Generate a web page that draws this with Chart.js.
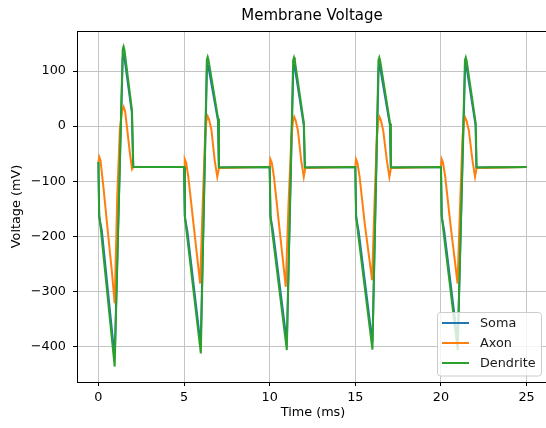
<!DOCTYPE html>
<html>
<head>
<meta charset="utf-8">
<title>Membrane Voltage</title>
<script src="https://cdn.jsdelivr.net/npm/chart.js@4/dist/chart.umd.min.js"></script>
<style>
    html, body { margin: 0; padding: 0; background: #fff; overflow: hidden; }
    #voltageChart { display: block; }
</style>
</head>
<body>
<canvas id="voltageChart" width="550" height="428"></canvas>
<script>
// Data (time in ms, voltage in mV)
const somaTime = [0, 0.05, 0.2, 0.95, 1.42, 1.47, 1.52, 1.95, 2.03,
    5.0, 5.05, 5.2, 5.97, 6.34, 6.38, 6.43, 6.98, 7.03,
    10.0, 10.05, 10.2, 11.0, 11.38, 11.42, 11.47, 11.99, 12.05,
    15.0, 15.05, 15.2, 16.0, 16.36, 16.4, 16.45, 17.02, 17.07,
    20.0, 20.05, 20.2, 20.98, 21.41, 21.45, 21.5, 22.02, 22.07,
    25.0];
const somaVoltage = [-65, -165, -190, -420, 125, 129, 124, 25, -74,
    -74, -165, -192, -398, 107, 111, 106, 10, -75,
    -74, -165, -192, -393, 107, 111, 106, 2, -75,
    -74, -165, -192, -393, 107, 111, 106, 2, -75,
    -74, -165, -192, -393, 107, 111, 106, 2, -75,
    -74];

const axonTime = [0, 0.05, 0.12, 0.29, 0.58, 0.78, 0.95, 1.1, 1.25, 1.38, 1.47, 1.56, 1.66, 1.82, 1.96, 2.04,
    5.0, 5.04, 5.12, 5.25, 5.55, 5.94, 6.09, 6.23, 6.31, 6.38, 6.46, 6.6, 6.79, 6.94, 7.04,
    10.0, 10.04, 10.12, 10.25, 10.55, 10.94, 11.1, 11.27, 11.36, 11.43, 11.51, 11.65, 11.84, 11.99, 12.08,
    15.0, 15.04, 15.12, 15.25, 15.55, 15.98, 16.12, 16.26, 16.34, 16.41, 16.49, 16.63, 16.84, 16.99, 17.08,
    20.0, 20.04, 20.12, 20.25, 20.55, 20.97, 21.12, 21.26, 21.34, 21.41, 21.49, 21.63, 21.84, 21.99, 22.08,
    25.0];
const axonVoltage = [-65, -56, -62, -110, -201, -262, -322, -128, -7, 28, 35, 27, 0, -44, -78, -74,
    -74, -60, -66, -92, -177, -286, -141, -19, 10, 18, 12, -7, -62, -92, -76,
    -74, -60, -66, -92, -180, -292, -141, -19, 9, 17, 11, -8, -62, -92, -76,
    -74, -60, -66, -92, -177, -280, -141, -19, 9, 17, 11, -8, -62, -92, -76,
    -74, -60, -66, -92, -177, -286, -141, -19, 8, 16, 10, -8, -62, -92, -76,
    -74];

const dendriteTime = [0, 0.04, 0.16, 0.95, 1.42, 1.47, 1.52, 1.96, 2.04,
    5.0, 5.04, 5.16, 5.98, 6.33, 6.38, 6.43, 6.99, 7.04,
    10.0, 10.04, 10.16, 11.0, 11.37, 11.42, 11.47, 12.0, 12.06,
    15.0, 15.04, 15.16, 16.0, 16.35, 16.4, 16.45, 17.03, 17.08,
    20.0, 20.04, 20.16, 20.98, 21.4, 21.45, 21.5, 22.03, 22.08,
    25.0];
const dendriteVoltage = [-65, -160, -193, -437, 140, 145, 139, 29, -74,
    -74, -162, -195, -413, 121, 126, 120, 14, -75,
    -74, -162, -195, -407, 120, 125, 119, 5, -75,
    -74, -162, -195, -406, 120, 125, 119, 5, -75,
    -74, -162, -195, -407, 120, 125, 119, 5, -75,
    -74];

const xTicks = [0, 5, 10, 15, 20, 25];
const yTicks = [-400, -300, -200, -100, 0, 100];

const seriesNames = ['Soma', 'Axon', 'Dendrite'];
const seriesColors = ['#1f77b4', '#ff7f0e', '#2ca02c'];

const FONT = '"DejaVu Sans", Verdana, sans-serif';

function toPoints(times, values) {
    return times.map((t, i) => ({ x: t, y: values[i] }));
}

// matplotlib style minus sign
function formatTick(value) {
    return value < 0 ? '\u2212' + Math.abs(value) : String(value);
}

// Title, axis labels, top spine and the in-plot legend
const decorations = {
    id: 'decorations',
    afterDraw(chart) {
        const ctx = chart.ctx;
        const area = chart.chartArea;
        ctx.save();

        // top spine
        ctx.strokeStyle = '#000';
        ctx.lineWidth = 1;
        ctx.beginPath();
        ctx.moveTo(area.left, area.top + 0.5);
        ctx.lineTo(area.right, area.top + 0.5);
        ctx.stroke();

        ctx.fillStyle = '#000';
        ctx.textAlign = 'center';
        ctx.textBaseline = 'middle';
        ctx.font = '15px ' + FONT;
        ctx.fillText('Membrane Voltage', 312, 16);

        ctx.font = '12.8px ' + FONT;
        ctx.fillText('Time (ms)', 313, 413);

        ctx.save();
        ctx.translate(17, (area.top + area.bottom) / 2);
        ctx.rotate(-Math.PI / 2);
        ctx.fillText('Voltage (mV)', 0, 0);
        ctx.restore();

        // legend box
        const bx = 437.5, by = 312.5, bw = 104, bh = 63.5, r = 3;
        ctx.beginPath();
        ctx.moveTo(bx + r, by);
        ctx.arcTo(bx + bw, by, bx + bw, by + bh, r);
        ctx.arcTo(bx + bw, by + bh, bx, by + bh, r);
        ctx.arcTo(bx, by + bh, bx, by, r);
        ctx.arcTo(bx, by, bx + bw, by, r);
        ctx.closePath();
        ctx.fillStyle = 'rgba(255,255,255,0.8)';
        ctx.fill();
        ctx.strokeStyle = '#cccccc';
        ctx.stroke();

        ctx.textAlign = 'left';
        ctx.font = '12.8px ' + FONT;
        seriesNames.forEach((name, i) => {
            const y = 323 + i * 20;
            ctx.strokeStyle = seriesColors[i];
            ctx.lineWidth = 2;
            ctx.beginPath();
            ctx.moveTo(442, y);
            ctx.lineTo(469, y);
            ctx.stroke();
            ctx.fillStyle = '#1a1a1a';
            ctx.fillText(name, 480, y + 1);
        });

        ctx.restore();
    }
};

const gridStyle = {
    color: '#c4c4c4',
    lineWidth: 1,
    tickLength: 4,
    tickColor: '#000',
    drawTicks: true
};

const chart = new Chart(document.getElementById('voltageChart'), {
    type: 'line',
    data: {
        datasets: [
            { label: 'Soma', data: toPoints(somaTime, somaVoltage), order: 2 },
            { label: 'Axon', data: toPoints(axonTime, axonVoltage), order: 1 },
            { label: 'Dendrite', data: toPoints(dendriteTime, dendriteVoltage), order: 0 }
        ].map((ds, i) => Object.assign(ds, {
            borderColor: seriesColors[i],
            borderWidth: 2,
            pointRadius: 0,
            tension: 0,
            fill: false
        }))
    },
    options: {
        responsive: false,
        animation: false,
        layout: { padding: { left: 0, top: 31, right: 2, bottom: 0 } },
        plugins: {
            legend: { display: false },
            title: { display: false },
            tooltip: { enabled: false }
        },
        scales: {
            x: {
                type: 'linear',
                min: -1.25,
                max: 26.25,
                grid: gridStyle,
                border: { color: '#000', width: 1 },
                afterBuildTicks: (scale) => { scale.ticks = xTicks.map(v => ({ value: v })); },
                afterFit: (scale) => { scale.height = 46; },
                ticks: {
                    color: '#000',
                    font: { family: FONT, size: 12.8 },
                    padding: 4,
                    maxRotation: 0,
                    callback: formatTick
                }
            },
            y: {
                type: 'linear',
                min: -465,
                max: 173,
                grid: gridStyle,
                border: { color: '#000', width: 1 },
                afterBuildTicks: (scale) => { scale.ticks = yTicks.map(v => ({ value: v })); },
                afterFit: (scale) => { scale.width = 77; },
                ticks: {
                    color: '#000',
                    font: { family: FONT, size: 12.8 },
                    padding: 7,
                    callback: formatTick
                }
            }
        }
    },
    plugins: [decorations]
});
</script>
</body>
</html>
